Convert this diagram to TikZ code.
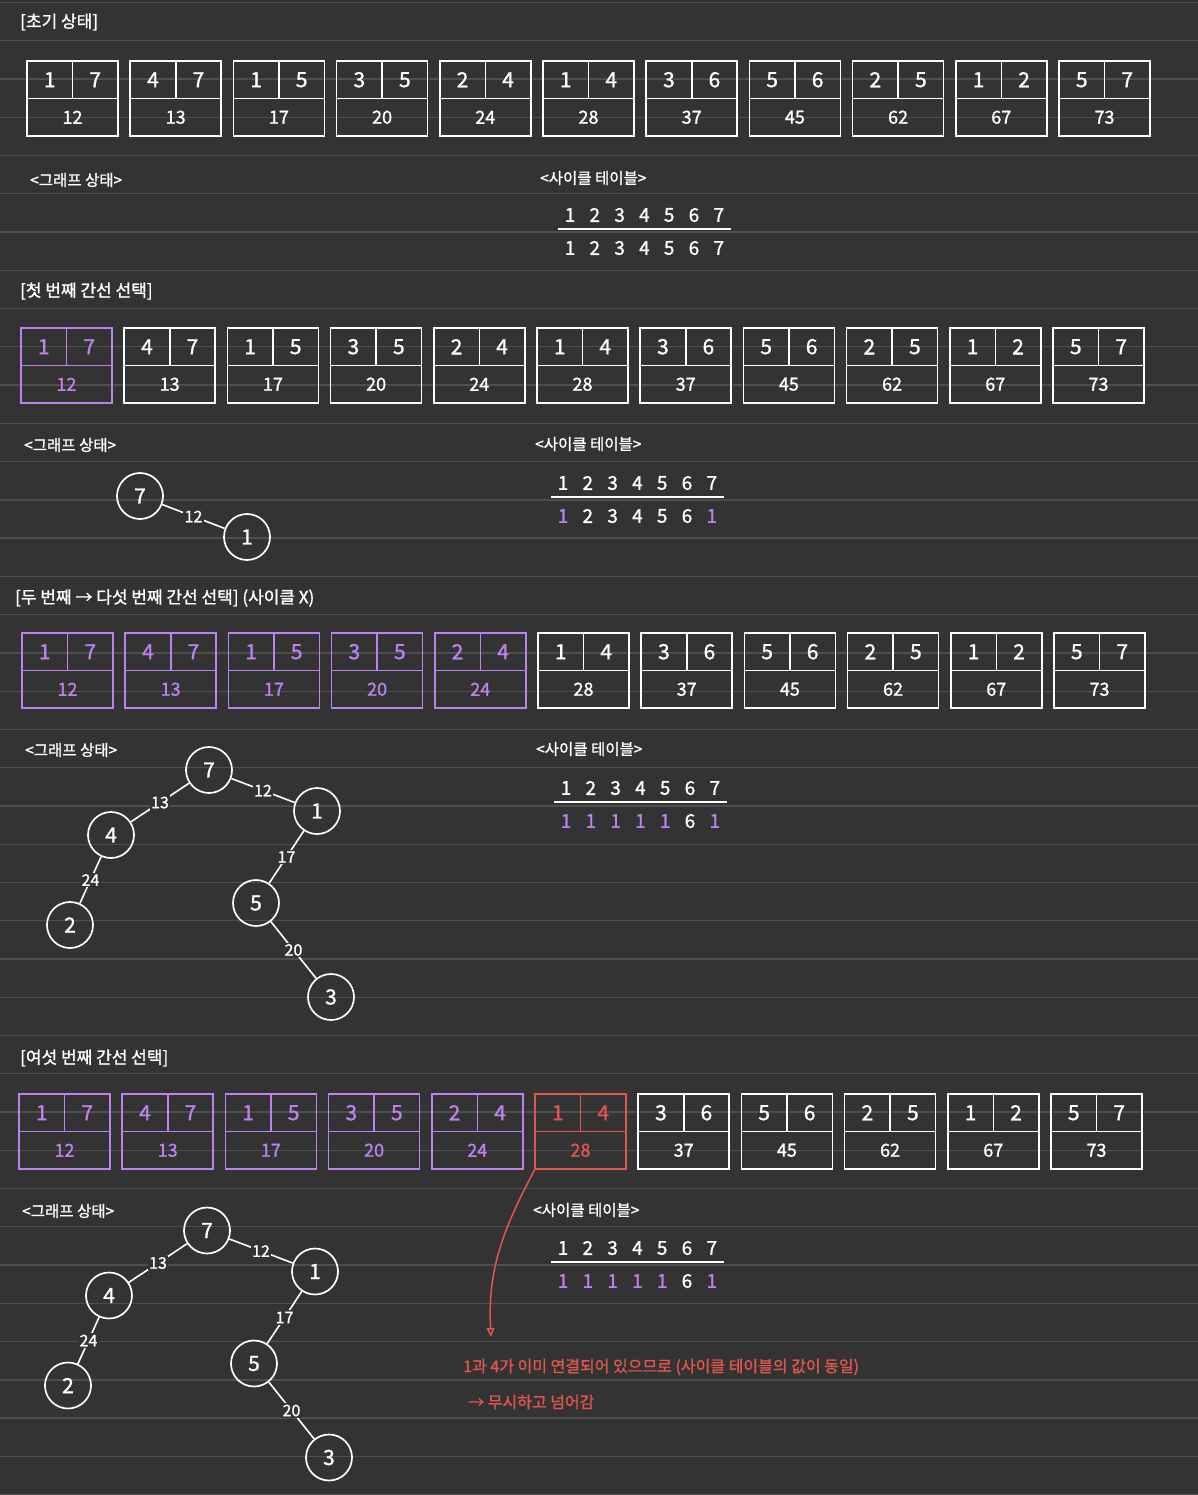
\documentclass[tikz,border=0pt]{standalone}
\usepackage{fontspec}
\setmainfont{Noto Sans CJK KR}[FakeBold=1.2]
\usepackage{tikz}
\usetikzlibrary{arrows.meta}
\usetikzlibrary{positioning, calc}
\usepackage{color}
\definecolor{note_bg}{RGB}{51,51,51}
\definecolor{note_rule}{RGB}{78,78,78}
\definecolor{pick_purple}{RGB}{190,130,240}
\definecolor{skip_red}{RGB}{226,86,78}

\newcommand{\edgelist}{1/7/12, 4/7/13, 1/5/17, 3/5/20, 2/4/24, 1/4/28, 3/6/37, 5/6/45, 2/5/62, 1/2/67, 5/7/73}

% one row of sorted edges: name, left x, top y, purple boxes, red box
\newcommand{\edgerow}[5]{%
  \foreach \a/\b/\w [count=\i] in \edgelist {
    \ifnum\i>#4 \def\bc{white}\else\def\bc{pick_purple}\fi
    \ifnum\i=#5 \def\bc{skip_red}\fi
    \node[edgebox, draw=\bc] (#1-\i) at ({#2+(\i-1)*103.2}, #3) {};
    \draw[boxline, \bc] (#1-\i.west) -- (#1-\i.east);
    \draw[boxline, \bc] (#1-\i.north) -- (#1-\i.center);
    \node[vnum, text=\bc] at ($(#1-\i.north west)!.5!(#1-\i.center)$) {\a};
    \node[vnum, text=\bc] at ($(#1-\i.north east)!.5!(#1-\i.center)$) {\b};
    \node[wnum, text=\bc] at ($(#1-\i.center)!.5!(#1-\i.south)$) {\w};
  }%
}

% cycle table: name, x, y, values
\newcommand{\cycletable}[4]{%
  \foreach \n [count=\i] in {1,...,7}
    \node[tnum] (#1-h\i) at ({#2+(\i-1)*24.8}, #3) {\n};
  \draw[tline] ({#2-12}, {#3+14}) -- ({#2+161}, {#3+14});
  \foreach \cv/\cc [count=\i] in {#4}
    \node[tnum, text=\cc] (#1-v\i) at ({#2+(\i-1)*24.8}, {#3+33}) {\cv};
}

\newcommand{\treestate}[1]{%
  \node[vertex] (#1-7) at (209,770) {7};
  \node[vertex] (#1-1) at (317,811) {1};
  \node[vertex] (#1-4) at (111,835) {4};
  \node[vertex] (#1-2) at (70,925) {2};
  \node[vertex] (#1-5) at (256,903) {5};
  \node[vertex] (#1-3) at (331,997) {3};
  \draw[gedge] (#1-7) -- node[elabel] {12} (#1-1);
  \draw[gedge] (#1-7) -- node[elabel] {13} (#1-4);
  \draw[gedge] (#1-4) -- node[elabel] {24} (#1-2);
  \draw[gedge] (#1-1) -- node[elabel] {17} (#1-5);
  \draw[gedge] (#1-5) -- node[elabel] {20} (#1-3);
}

\begin{document}
\begin{tikzpicture}[x=1pt, y=-1pt,
    edgebox/.style={rectangle, draw, line width=1.6pt, minimum width=91pt, minimum height=75pt, anchor=north west, inner sep=0pt, outer sep=0pt},
    boxline/.style={line width=1.6pt},
    vnum/.style={inner sep=0pt, font=\fontsize{21}{23}\selectfont},
    wnum/.style={inner sep=0pt, font=\fontsize{18}{20}\selectfont},
    tnum/.style={inner sep=0pt, text=white, font=\fontsize{19}{21}\selectfont},
    tline/.style={white, line width=1.6pt},
    vertex/.style={circle, draw=white, line width=1.7pt, minimum size=46pt, inner sep=0pt, text=white, font=\fontsize{21}{23}\selectfont},
    gedge/.style={white, line width=1.6pt},
    elabel/.style={fill=note_bg, inner sep=1.5pt, text=white, font=\fontsize{16}{18}\selectfont},
    title/.style={anchor=west, inner sep=0pt, text=white, font=\fontsize{17}{20}\selectfont},
    sublabel/.style={anchor=west, inner sep=0pt, text=white, font=\fontsize{15.5}{18}\selectfont},
    note/.style={anchor=west, inner sep=0pt, text=skip_red, font=\fontsize{16}{19}\selectfont},
    redarrow/.style={skip_red, line width=1.5pt, -{Triangle[open, length=9pt, width=8pt]}}]
  \path[use as bounding box] (0,0) rectangle (1198,1495);
  \fill[note_bg] (0,0) rectangle (1198,1495);
  \foreach \k in {0,...,39}
    \draw[note_rule, line width=1.3pt] (0, {2.5+38.26*\k}) -- (1198, {2.5+38.26*\k});

  % initial state
  \node[title] (t1) at (20,22) {[초기 상태]};
  \edgerow{r1}{27}{61}{0}{0}
  \node[sublabel] (gs1) at (30,180) {<그래프 상태>};
  \node[sublabel] (ct1) at (540,178) {<사이클 테이블>};
  \cycletable{c1}{570}{215}{1/white, 2/white, 3/white, 4/white, 5/white, 6/white, 7/white}

  % first edge
  \node[title] (t2) at (20,291) {[첫 번째 간선 선택]};
  \edgerow{r2}{21}{328}{1}{0}
  \node[sublabel] (gs2) at (24,445) {<그래프 상태>};
  \node[sublabel] (ct2) at (535,444) {<사이클 테이블>};
  \node[vertex] (g2-7) at (140,496) {7};
  \node[vertex] (g2-1) at (247,537) {1};
  \draw[gedge] (g2-7) -- node[elabel] {12} (g2-1);
  \cycletable{c2}{563}{483}{1/pick_purple, 2/white, 3/white, 4/white, 5/white, 6/white, 1/pick_purple}

  % second to fifth edge
  \node[title] (t3) at (15,598) {[두 번째 → 다섯 번째 간선 선택] (사이클 X)};
  \edgerow{r3}{22}{633}{5}{0}
  \node[sublabel] (gs3) at (25,750) {<그래프 상태>};
  \node[sublabel] (ct3) at (536,749) {<사이클 테이블>};
  \treestate{g3}
  \cycletable{c3}{566}{788}{1/pick_purple, 1/pick_purple, 1/pick_purple, 1/pick_purple, 1/pick_purple, 6/white, 1/pick_purple}

  % sixth edge
  \node[title] (t4) at (20,1058) {[여섯 번째 간선 선택]};
  \edgerow{r4}{19}{1094}{5}{6}
  \node[sublabel] (gs4) at (22,1211) {<그래프 상태>};
  \node[sublabel] (ct4) at (533,1210) {<사이클 테이블>};
  \begin{scope}[shift={(-2,460.5)}]
    \treestate{g4}
  \end{scope}
  \cycletable{c4}{563}{1248}{1/pick_purple, 1/pick_purple, 1/pick_purple, 1/pick_purple, 1/pick_purple, 6/white, 1/pick_purple}

  \coordinate (tip) at (491,1337);
  \draw[redarrow] (r4-6.south west) to[out=-118, in=93] (tip);
  \node[note] (note1) at (463,1367) {1과 4가 이미 연결되어 있으므로 (사이클 테이블의 값이 동일)};
  \node[note] (note2) at (468,1402) {→ 무시하고 넘어감};
\end{tikzpicture}
\end{document}
